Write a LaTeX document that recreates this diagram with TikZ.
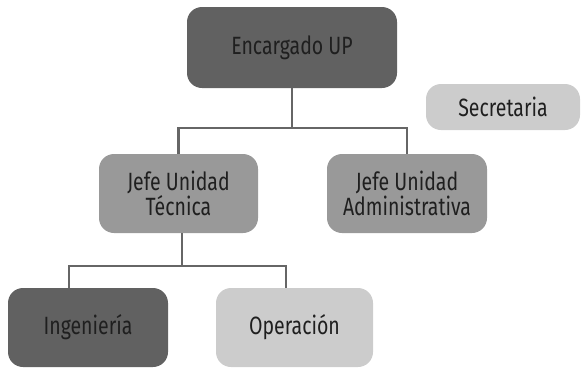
\documentclass[tikz,border=0pt]{standalone}
\usepackage{fontspec}
\setmainfont{Fira Sans}[FakeStretch=0.78]
\begin{document}
\begin{tikzpicture}[x=1pt,y=-1pt,
  box/.style={rounded corners=15pt,draw=none,align=center,font=\fontsize{25}{25}\selectfont,text=black!88, inner sep=0pt},
  dark/.style={box,fill=black!62},
  mid/.style={box,fill=black!40},
  light/.style={box,fill=black!20},
  conn/.style={draw=black!60,line width=2.2pt}]
\useasboundingbox (0,0) rectangle (581,368);
\node[dark, minimum width=210pt, minimum height=81pt] (enc) at (292,47.5) {Encargado UP};
\node[light, minimum width=154pt, minimum height=46pt] (sec) at (503,107) {Secretaria};
\node[mid, minimum width=159pt, minimum height=79pt] (tec) at (178.5,193.5) {Jefe Unidad\\Técnica};
\node[mid, minimum width=160pt, minimum height=79pt] (adm) at (407,193.5) {Jefe Unidad\\Administrativa};
\node[dark, minimum width=160pt, minimum height=79pt] (ing) at (88,327.5) {Ingeniería};
\node[light, minimum width=157pt, minimum height=79pt] (ope) at (294.5,327.5) {Operación};
\coordinate (b1) at (292,128);
\coordinate (b2) at (182,266);
\draw[conn] (enc.south) -- (b1) -| (tec.north);
\draw[conn] (b1) -| (adm.north);
\draw[conn] (tec.south -| b2) -- (b2) -| (ing.north -| 69,0);
\draw[conn] (b2) -| (ope.north -| 286,0);
\end{tikzpicture}
\end{document}
